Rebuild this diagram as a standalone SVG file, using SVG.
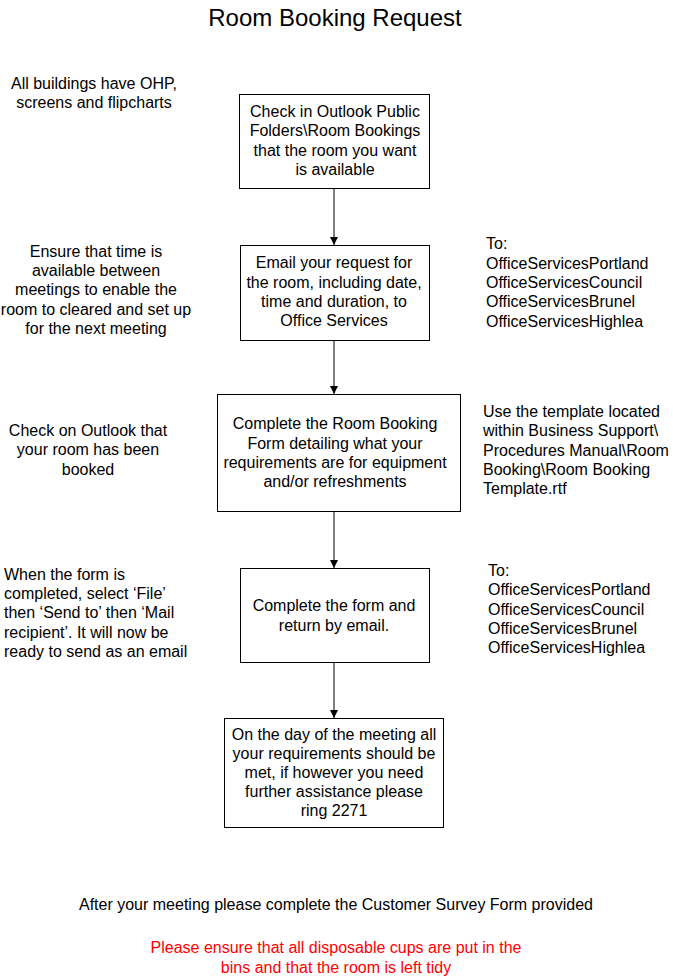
<svg xmlns="http://www.w3.org/2000/svg" width="673" height="977" viewBox="0 0 673 977">
<style>
text{font-family:"Liberation Sans",Arial,sans-serif;font-size:16px;fill:#000}
.c{text-anchor:middle}
.box{fill:#fff;stroke:#000;stroke-width:1}
.red{fill:#ff0000}
.conn{stroke:#000;stroke-width:1;fill:none}
</style>
<defs>
<marker id="ah" viewBox="0 0 10 10" refX="10" refY="5" markerWidth="8" markerHeight="10" markerUnits="userSpaceOnUse" orient="auto">
<path d="M0,0 L10,5 L0,10 z" fill="#000"/>
</marker>
</defs>
<rect width="673" height="977" fill="#fff"/>
<text class="c" x="335" y="26" style="font-size:24px">Room Booking Request</text>

<g id="connectors">
<line class="conn" x1="334" y1="188" x2="334" y2="245" marker-end="url(#ah)"/>
<line class="conn" x1="334" y1="340" x2="334" y2="394" marker-end="url(#ah)"/>
<line class="conn" x1="334" y1="511" x2="334" y2="568" marker-end="url(#ah)"/>
<line class="conn" x1="334" y1="662" x2="334" y2="718" marker-end="url(#ah)"/>
</g>

<g id="box1">
<rect class="box" x="239.5" y="94.5" width="190" height="94"/>
<text class="c"><tspan x="335" y="117">Check in Outlook Public</tspan><tspan x="335" y="136">Folders\Room Bookings</tspan><tspan x="335" y="156">that the room you want</tspan><tspan x="335" y="175">is available</tspan></text>
</g>
<g id="box2">
<rect class="box" x="240.5" y="245.5" width="189" height="95"/>
<text class="c"><tspan x="334" y="268">Email your request for</tspan><tspan x="334" y="288">the room, including date,</tspan><tspan x="334" y="307">time and duration, to</tspan><tspan x="334" y="326">Office Services</tspan></text>
</g>
<g id="box3">
<rect class="box" x="217.5" y="394.5" width="243" height="117"/>
<text class="c"><tspan x="335" y="429">Complete the Room Booking</tspan><tspan x="335" y="449">Form detailing what your</tspan><tspan x="335" y="468">requirements are for equipment</tspan><tspan x="335" y="487">and/or refreshments</tspan></text>
</g>
<g id="box4">
<rect class="box" x="240.5" y="568.5" width="189" height="94"/>
<text class="c"><tspan x="334" y="611">Complete the form and</tspan><tspan x="334" y="631">return by email.</tspan></text>
</g>
<g id="box5">
<rect class="box" x="224.5" y="718.5" width="219" height="109"/>
<text class="c"><tspan x="334" y="740">On the day of the meeting all</tspan><tspan x="334" y="759">your requirements should be</tspan><tspan x="334" y="778">met, if however you need</tspan><tspan x="334" y="797">further assistance please</tspan><tspan x="334" y="816">ring 2271</tspan></text>
</g>

<g id="note1">
<text class="c"><tspan x="94" y="89">All buildings have OHP,</tspan><tspan x="94" y="108">screens and flipcharts</tspan></text>
</g>
<g id="note2">
<text class="c"><tspan x="96" y="257">Ensure that time is</tspan><tspan x="96" y="276">available between</tspan><tspan x="96" y="295">meetings to enable the</tspan><tspan x="96" y="315">room to cleared and set up</tspan><tspan x="96" y="334">for the next meeting</tspan></text>
</g>
<g id="note3">
<text class="c"><tspan x="88" y="436">Check on Outlook that</tspan><tspan x="88" y="455">your room has been</tspan><tspan x="88" y="475">booked</tspan></text>
</g>
<g id="note4">
<text><tspan x="4" y="580">When the form is</tspan><tspan x="4" y="599">completed, select ‘File’</tspan><tspan x="4" y="618">then ‘Send to’ then ‘Mail</tspan><tspan x="4" y="638">recipient’. It will now be</tspan><tspan x="4" y="657">ready to send as an email</tspan></text>
</g>
<g id="note5">
<text><tspan x="486" y="249">To:</tspan><tspan x="486" y="269">OfficeServicesPortland</tspan><tspan x="486" y="288">OfficeServicesCouncil</tspan><tspan x="486" y="307">OfficeServicesBrunel</tspan><tspan x="486" y="327">OfficeServicesHighlea</tspan></text>
</g>
<g id="note6">
<text><tspan x="483" y="417">Use the template located</tspan><tspan x="483" y="436">within Business Support\</tspan><tspan x="483" y="456">Procedures Manual\Room</tspan><tspan x="483" y="475">Booking\Room Booking</tspan><tspan x="483" y="494">Template.rtf</tspan></text>
</g>
<g id="note7">
<text><tspan x="488" y="576">To:</tspan><tspan x="488" y="595">OfficeServicesPortland</tspan><tspan x="488" y="615">OfficeServicesCouncil</tspan><tspan x="488" y="634">OfficeServicesBrunel</tspan><tspan x="488" y="653">OfficeServicesHighlea</tspan></text>
</g>

<text class="c" x="336" y="910">After your meeting please complete the Customer Survey Form provided</text>
<text class="c red"><tspan x="336" y="953">Please ensure that all disposable cups are put in the</tspan><tspan x="336" y="973">bins and that the room is left tidy</tspan></text>
</svg>
